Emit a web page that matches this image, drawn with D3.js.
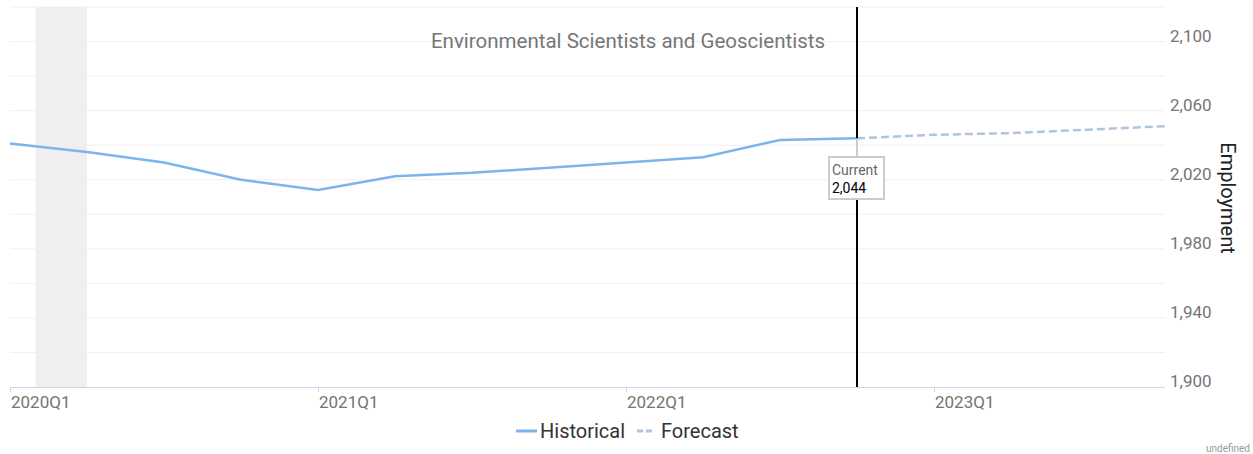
<!DOCTYPE html>
<html>
<head>
<meta charset="utf-8">
<script src="https://cdn.jsdelivr.net/npm/d3@7"></script>
<style>
  body { margin: 0; background: #fff; font-family: Roboto, "Noto Sans", sans-serif; }
  svg { display: block; }
</style>
</head>
<body>
<div id="chart"></div>
<script>
// Employment by quarter — historical vs forecast
const quarters = ["2020Q1", "2020Q2", "2020Q3", "2020Q4", "2021Q1", "2021Q2", "2021Q3", "2021Q4",
  "2022Q1", "2022Q2", "2022Q3", "2022Q4", "2023Q1", "2023Q2", "2023Q3", "2023Q4"];
const historical = [2041, 2036, 2030, 2020, 2014, 2022, 2024, 2027, 2030, 2033, 2043, 2044];
const forecast = [2044, 2046, 2047, 2049, 2051];
const forecastStart = 11; // index of 2022Q4
const tickQuarters = ["2020Q1", "2021Q1", "2022Q1", "2023Q1"];
const yTicks = [1900, 1940, 1980, 2020, 2060, 2100];
const recession = [1 / 3, 1]; // Feb 2020 – Apr 2020, in quarter units
const currentIdx = 11;
const currentValue = 2044;

(function () {
  const width = 1253, height = 454;
  const pLeft = 10, pRight = 1165, pTop = 7, pBottom = 387;

  const svg = d3.select("#chart").append("svg")
    .attr("width", width).attr("height", height);

  const x = d3.scaleLinear().domain([0, quarters.length - 1]).range([pLeft, pRight]);
  const y = d3.scaleLinear().domain([1900, 2120]).range([pBottom, pTop]);

  // recession band
  svg.append("rect")
    .attr("x", x(recession[0])).attr("y", pTop)
    .attr("width", x(recession[1]) - x(recession[0]))
    .attr("height", pBottom - pTop)
    .attr("fill", "#efefef");

  // grid lines every 20
  svg.append("g").selectAll("line")
    .data(d3.range(1920, 2121, 20))
    .join("line")
    .attr("x1", pLeft).attr("x2", pRight)
    .attr("y1", (d) => y(d)).attr("y2", (d) => y(d))
    .attr("stroke", "#f0f0f0").attr("stroke-width", 1);

  // y labels on the right, sitting on the grid line
  svg.append("g").selectAll("text")
    .data(yTicks)
    .join("text")
    .attr("x", pRight + 5).attr("y", (d) => y(d))
    .attr("font-size", 17).attr("fill", "#757575")
    .text((d) => d3.format(",")(d));

  svg.append("text")
    .attr("transform", `translate(1221,198) rotate(90)`)
    .attr("text-anchor", "middle")
    .attr("font-size", 20).attr("fill", "#222")
    .text("Employment");

  // x axis
  svg.append("line")
    .attr("x1", pLeft).attr("x2", pRight)
    .attr("y1", pBottom + 0.5).attr("y2", pBottom + 0.5)
    .attr("stroke", "#ccd6eb");

  const xt = svg.append("g").selectAll("g")
    .data(tickQuarters)
    .join("g")
    .attr("transform", (d) => `translate(${x(quarters.indexOf(d))},${pBottom})`);
  xt.append("line").attr("x1", 0.5).attr("x2", 0.5).attr("y1", 0).attr("y2", 5).attr("stroke", "#ccd6eb");
  xt.append("text").attr("x", 1).attr("y", 21)
    .attr("font-size", 17).attr("fill", "#757575")
    .text((d) => d);

  // title
  svg.append("text")
    .attr("x", 628).attr("y", 48)
    .attr("text-anchor", "middle")
    .attr("font-size", 20.5).attr("fill", "#777")
    .text("Environmental Scientists and Geoscientists");

  const line = d3.line().x((d) => x(d.i)).y((d) => y(d.v));

  svg.append("path")
    .datum(historical.map((v, i) => ({ i, v })))
    .attr("d", line)
    .attr("fill", "none").attr("stroke", "#7cb5ec").attr("stroke-width", 2.5);

  svg.append("path")
    .datum(forecast.map((v, i) => ({ i: i + forecastStart, v })))
    .attr("d", line)
    .attr("fill", "none").attr("stroke", "#b0c4de").attr("stroke-width", 2.5)
    .attr("stroke-dasharray", "8,4");

  // current marker
  const cx = x(currentIdx);
  svg.append("line")
    .attr("x1", cx).attr("x2", cx).attr("y1", pTop).attr("y2", pBottom)
    .attr("stroke", "#000").attr("stroke-width", 2);

  svg.append("line")
    .attr("x1", cx).attr("x2", cx).attr("y1", y(currentValue)).attr("y2", 157)
    .attr("stroke", "#ccc").attr("stroke-width", 2);

  svg.append("rect")
    .attr("x", cx - 28).attr("y", 157).attr("width", 55).attr("height", 42)
    .attr("fill", "#fff").attr("stroke", "#ccc").attr("stroke-width", 2);
  svg.append("text").attr("x", cx - 25).attr("y", 175)
    .attr("font-size", 14).attr("fill", "#666").text("Current");
  svg.append("text").attr("x", cx - 25).attr("y", 193)
    .attr("font-size", 14).attr("fill", "#000").text(d3.format(",")(currentValue));

  // legend
  const lg = svg.append("g").attr("transform", "translate(516,431)");
  lg.append("line").attr("x1", 0).attr("x2", 21).attr("stroke", "#7cb5ec").attr("stroke-width", 3);
  lg.append("text").attr("x", 24).attr("y", 7).attr("font-size", 20).attr("fill", "#333").text("Historical");
  lg.append("line").attr("x1", 121).attr("x2", 137).attr("stroke", "#b0c4de").attr("stroke-width", 3)
    .attr("stroke-dasharray", "6,3");
  lg.append("text").attr("x", 145).attr("y", 7).attr("font-size", 20).attr("fill", "#333").text("Forecast");

  svg.append("text")
    .attr("x", 1250).attr("y", 452)
    .attr("text-anchor", "end")
    .attr("font-size", 10).attr("fill", "#999")
    .text("undefined");
})();
</script>
</body>
</html>
